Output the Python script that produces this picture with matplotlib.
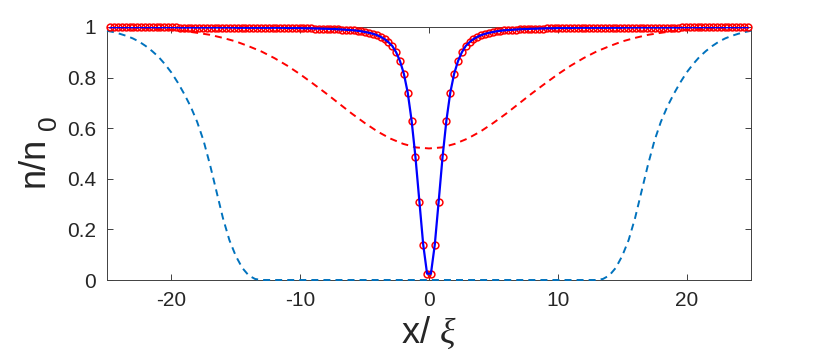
import numpy as np
import matplotlib
matplotlib.use('Agg')
import matplotlib.pyplot as plt

plt.rcParams['font.family'] = ['Liberation Sans', 'DejaVu Sans']
plt.rcParams['mathtext.fontset'] = 'custom'
plt.rcParams['mathtext.rm'] = 'Liberation Sans'
plt.rcParams['mathtext.it'] = 'Liberation Serif:italic'

# --- data (symmetric about x = 0; half profiles for x >= 0) ---
# soliton profile: numerics (circles) sampled every 0.3, same points joined by the solid line
x_sol_half = np.arange(0.15, 25.0, 0.3)
n_sol_half = [0.025, 0.14, 0.31, 0.485, 0.63, 0.74, 0.815, 0.865, 0.90, 0.925,
              0.94, 0.952, 0.961, 0.968, 0.973, 0.977, 0.980, 0.983, 0.985, 0.987,
              0.988, 0.989, 0.990, 0.991, 0.992, 0.992, 0.993, 0.993, 0.994, 0.994,
              0.995, 0.995, 0.995, 0.996, 0.996, 0.996, 0.996, 0.997,
              0.997, 0.997, 0.997, 0.997, 0.997, 0.997, 0.997, 0.997, 0.997, 0.997,
              0.997, 0.997,
              0.998, 0.998, 0.998, 0.998, 0.998, 0.998, 0.998, 0.998, 0.998, 0.998,
              0.998, 0.998, 0.998, 0.998, 0.998,
              0.999, 0.999, 0.999, 0.999, 0.999, 0.999, 0.999, 0.999, 0.999, 0.999,
              0.999, 0.999, 0.999, 0.999, 0.999, 0.999, 0.999, 0.999]

# broad dip (red dashed), step 1
x_broad_half = np.arange(0, 26, 1.0)
n_broad_half = [0.520, 0.524, 0.538, 0.559, 0.587, 0.621, 0.658, 0.698, 0.738, 0.776,
                0.813, 0.847, 0.877, 0.903, 0.924, 0.943, 0.957, 0.969, 0.977, 0.984,
                0.989, 0.992, 0.995, 0.997, 0.998, 0.999]

# wide flat-bottom profile (blue dashed), step 0.5
x_wide_half = np.arange(0, 25.5, 0.5)
n_wide_half = [0.0] * 27 + [0.004, 0.018, 0.048, 0.095, 0.158, 0.245, 0.35, 0.455,
                            0.55, 0.625, 0.685, 0.735, 0.78, 0.82, 0.853, 0.882,
                            0.905, 0.925, 0.942, 0.955, 0.965, 0.973, 0.98, 0.985]


def mirror(xh, yh, has_zero):
    xh = np.asarray(xh, dtype=float)
    yh = np.asarray(yh, dtype=float)
    if has_zero:
        return np.concatenate([-xh[:0:-1], xh]), np.concatenate([yh[:0:-1], yh])
    return np.concatenate([-xh[::-1], xh]), np.concatenate([yh[::-1], yh])


x_sol, n_sol = mirror(x_sol_half, n_sol_half, False)
x_broad, n_broad = mirror(x_broad_half, n_broad_half, True)
x_wide, n_wide = mirror(x_wide_half, n_wide_half, True)

xticks = [-20, -10, 0, 10, 20]
yticks = [0, 0.2, 0.4, 0.6, 0.8, 1]
xticklabels = ['-20', '-10', '0', '10', '20']
yticklabels = ['0', '0.2', '0.4', '0.6', '0.8', '1']

# --- figure ---
fig = plt.figure(figsize=(8.3, 3.52), dpi=100)
ax = fig.add_axes([107 / 830, 1 - 280 / 352, 644 / 830, 253 / 352])

ax.plot(x_wide, n_wide, color='#0072BD', lw=1.4, dashes=(3.6, 2.6), zorder=3, clip_on=False)
ax.plot(x_broad, n_broad, color='#FF0000', lw=1.4, dashes=(3.6, 2.6), zorder=3.1)
ax.plot(x_sol, n_sol, 'o', mfc='none', mec='#FF0000', ms=4.9, mew=1.1, clip_on=False, zorder=3.2)
ax.plot(x_sol, n_sol, '-', color='#0000FF', lw=1.6, zorder=3.3)

ax.set_xlim(-25, 25)
ax.set_ylim(0, 1)
ax.set_xticks(xticks)
ax.set_xticklabels(xticklabels)
ax.set_yticks(yticks)
ax.set_yticklabels(yticklabels)

for s in ax.spines.values():
    s.set_color('#404040')
    s.set_linewidth(0.7)
ax.tick_params(direction='in', length=4.3, width=0.7, color='#404040',
               top=True, right=True, labelsize=15, labelcolor='#262626', pad=8)

ax.set_xlabel(r'x/ $\xi$', fontsize=26, color='#262626')
ax.set_ylabel('n/n', fontsize=26, color='#262626')
ax.xaxis.set_label_coords(0.5, -0.137)
ax.yaxis.set_label_coords(-0.086, 0.466)
# subscript of n_0, drawn large as in the reference
fig.text(49 / 830, 1 - 123 / 352, '0', rotation=90, ha='center', va='center',
         fontsize=19, color='#262626')

fig.savefig('out.png', dpi=100)
